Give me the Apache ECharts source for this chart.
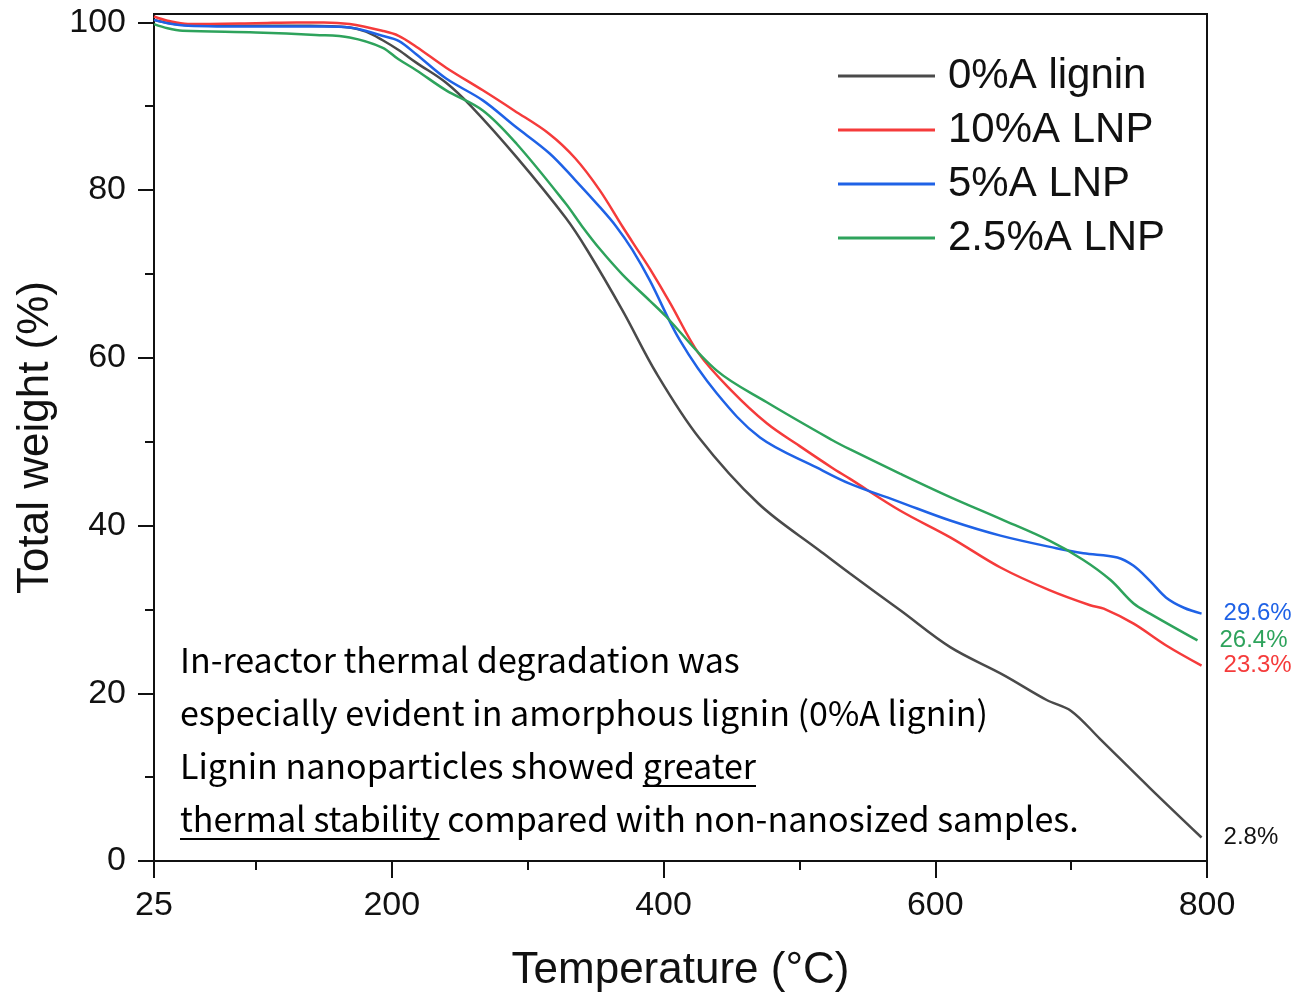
<!DOCTYPE html>
<html><head><meta charset="utf-8">
<script src="https://cdn.jsdelivr.net/npm/echarts@6/dist/echarts.min.js"></script>
<style>html,body{margin:0;padding:0;background:#fff}#c{width:1296px;height:993px}</style>
</head><body><div id="c"></div><script>
// ---- data ----
const seriesNames = ['0%A lignin', '10%A LNP', '5%A LNP', '2.5%A LNP'];
const endLabels = ['2.8%', '23.3%', '29.6%', '26.4%'];

const t0 = [25, 40, 60, 100, 140, 169, 181, 193, 205, 218, 240, 259, 292, 328, 344, 370, 395, 426, 470, 515, 537, 575, 611, 650, 682, 700, 721, 758, 796];
const w0 = [100.3, 99.8, 99.6, 99.6, 99.6, 99.4, 98.9, 97.9, 96.7, 95.2, 92.8, 89.9, 83.9, 76.7, 72.8, 65.6, 58.1, 50.5, 42.6, 37.0, 34.3, 29.8, 25.5, 22.2, 19.2, 17.9, 14.6, 8.7, 2.8];

const t1 = [25, 35, 50, 100, 130, 150, 169, 193, 205, 218, 240, 267, 290, 316, 335, 353, 370, 382, 390, 405, 426, 450, 476, 500, 524, 537, 574, 611, 648, 684, 714, 724, 746, 770, 796];
const w1 = [100.7, 100.2, 99.8, 99.9, 100.0, 100.0, 99.8, 99.0, 98.4, 97.1, 94.6, 91.9, 89.5, 86.7, 83.8, 80.0, 75.6, 72.6, 70.6, 66.5, 60.5, 56.1, 52.2, 49.5, 46.9, 45.6, 41.8, 38.6, 35.0, 32.3, 30.5, 30.1, 28.3, 25.7, 23.3];

const t2 = [25, 35, 50, 100, 150, 169, 193, 205, 218, 240, 267, 290, 316, 335, 353, 365, 377, 390, 412, 439, 471, 513, 537, 574, 611, 648, 689, 709, 734, 746, 758, 770, 783, 796];
const w2 = [100.3, 99.9, 99.6, 99.5, 99.5, 99.4, 98.4, 97.8, 96.2, 93.3, 90.7, 87.7, 84.4, 81.2, 78.0, 75.7, 72.9, 69.2, 62.1, 55.8, 50.5, 46.9, 45.0, 42.8, 40.6, 38.8, 37.3, 36.7, 36.2, 35.2, 33.4, 31.4, 30.2, 29.5];

const t3 = [25, 35, 46, 100, 144, 169, 193, 205, 218, 240, 267, 292, 328, 340, 353, 370, 390, 402, 439, 476, 524, 537, 574, 611, 648, 684, 709, 729, 746, 758, 793];
const w3 = [99.8, 99.3, 99.0, 98.8, 98.5, 98.2, 97.0, 95.6, 94.3, 91.9, 89.5, 85.5, 78.4, 75.7, 73.0, 69.9, 66.8, 64.9, 58.5, 54.7, 50.2, 49.1, 46.2, 43.4, 40.8, 38.2, 35.9, 33.5, 30.7, 29.5, 26.3];

const xMajorTicks = [25, 200, 400, 600, 800];
const xMinorTicks = [100, 300, 500, 700];
const yMajorTicks = [0, 20, 40, 60, 80, 100];
const yMinorTicks = [10, 30, 50, 70, 90];

const noteLines = [
  'In-reactor thermal degradation was',
  'especially evident in amorphous lignin (0%A lignin)',
  'Lignin nanoparticles showed greater',
  'thermal stability compared with non-nanosized samples.'
];
// underlined pieces: [line index, substring]
const noteUnderlines = [[2, 'greater'], [3, 'thermal stability']];

// ---- styling ----
const colors = ['#4a4a4a', '#f53b3b', '#1f62e6', '#2ea35c'];
const tickFont = 'Liberation Sans';
const noteFontSize = 34;
const noteFontFamily = '"Noto Sans CJK KR"';
const noteFont = noteFontSize + 'px ' + noteFontFamily;

const allT = [t0, t1, t2, t3];
const allW = [w0, w1, w2, w3];

const series = seriesNames.map((name, i) => ({
  name: name,
  type: 'line',
  xAxisIndex: 0,
  yAxisIndex: 0,
  data: allT[i].map((t, j) => [t, allW[i][j]]),
  symbol: 'none',
  showSymbol: false,
  smooth: 0.35,
  lineStyle: { color: colors[i], width: 2.5 },
  itemStyle: { color: colors[i] },
  z: 3,
  endLabel: {
    show: true,
    formatter: endLabels[i],
    color: i === 0 ? '#111' : colors[i],
    fontSize: 24,
    fontFamily: tickFont,
    distance: 22
  }
}));

// annotation text with underlines
const measureCtx = document.createElement('canvas').getContext('2d');
measureCtx.font = noteFont;
const noteX = 180, noteY0 = 660, noteDy = 53;
const graphics = [];
noteLines.forEach((line, i) => {
  graphics.push({
    type: 'text', x: noteX, y: noteY0 + i * noteDy, z: 10,
    style: { text: line, font: noteFont, fill: '#000', verticalAlign: 'middle', align: 'left' }
  });
});
noteUnderlines.forEach(([li, sub]) => {
  const line = noteLines[li];
  const idx = line.indexOf(sub);
  const x0 = measureCtx.measureText(line.slice(0, idx)).width;
  const w = measureCtx.measureText(sub).width;
  graphics.push({
    type: 'rect', z: 10,
    shape: { x: noteX + x0, y: noteY0 + li * noteDy + 19, width: w, height: 2 },
    style: { fill: '#000' }
  });
});

const axisLineStyle = { color: '#111', width: 2 };

const option = {
  backgroundColor: '#fff',
  animation: false,
  grid: {
    left: 154, right: 89, top: 14, bottom: 132,
    show: true, borderColor: '#111', borderWidth: 2,
    containLabel: false, outerBoundsMode: 'none'
  },
  legend: {
    data: seriesNames,
    orient: 'vertical',
    left: 833, top: 50,
    icon: 'rect',
    itemWidth: 97, itemHeight: 3, itemGap: 12,
    textStyle: { fontSize: 42, fontFamily: tickFont, color: '#111', padding: [0, 0, 0, 8], lineHeight: 42 }
  },
  xAxis: [{
    type: 'value', min: 25, max: 800, position: 'bottom',
    name: 'Temperature (°C)', nameLocation: 'middle', nameGap: 88,
    nameTextStyle: { fontSize: 44, fontFamily: tickFont, color: '#111' },
    axisLine: { show: true, lineStyle: axisLineStyle },
    axisTick: { show: true, customValues: xMajorTicks, length: 17, lineStyle: { color: '#111', width: 2 } },
    axisLabel: { show: true, customValues: xMajorTicks, fontSize: 34, fontFamily: tickFont, color: '#111', margin: 28 },
    splitLine: { show: false }
  }, {
    type: 'value', min: 25, max: 800, position: 'bottom',
    axisLine: { show: false },
    axisTick: { show: true, customValues: xMinorTicks, length: 9, lineStyle: { color: '#111', width: 2 } },
    axisLabel: { show: false },
    splitLine: { show: false }
  }],
  yAxis: [{
    type: 'value', min: 0, max: 101, position: 'left',
    name: 'Total weight (%)', nameLocation: 'middle', nameGap: 96,
    nameTextStyle: { fontSize: 44, fontFamily: tickFont, color: '#111' },
    axisLine: { show: true, lineStyle: axisLineStyle },
    axisTick: { show: true, customValues: yMajorTicks, length: 16, lineStyle: { color: '#111', width: 2 } },
    axisLabel: { show: true, customValues: yMajorTicks, fontSize: 34, fontFamily: tickFont, color: '#111', margin: 28 },
    splitLine: { show: false }
  }, {
    type: 'value', min: 0, max: 101, position: 'left',
    axisLine: { show: false },
    axisTick: { show: true, customValues: yMinorTicks, length: 9, lineStyle: { color: '#111', width: 2 } },
    axisLabel: { show: false },
    splitLine: { show: false }
  }],
  graphic: graphics,
  series: series
};

const chart = echarts.init(document.getElementById('c'), null, { renderer: 'canvas' });
chart.setOption(option);
</script></body></html>
